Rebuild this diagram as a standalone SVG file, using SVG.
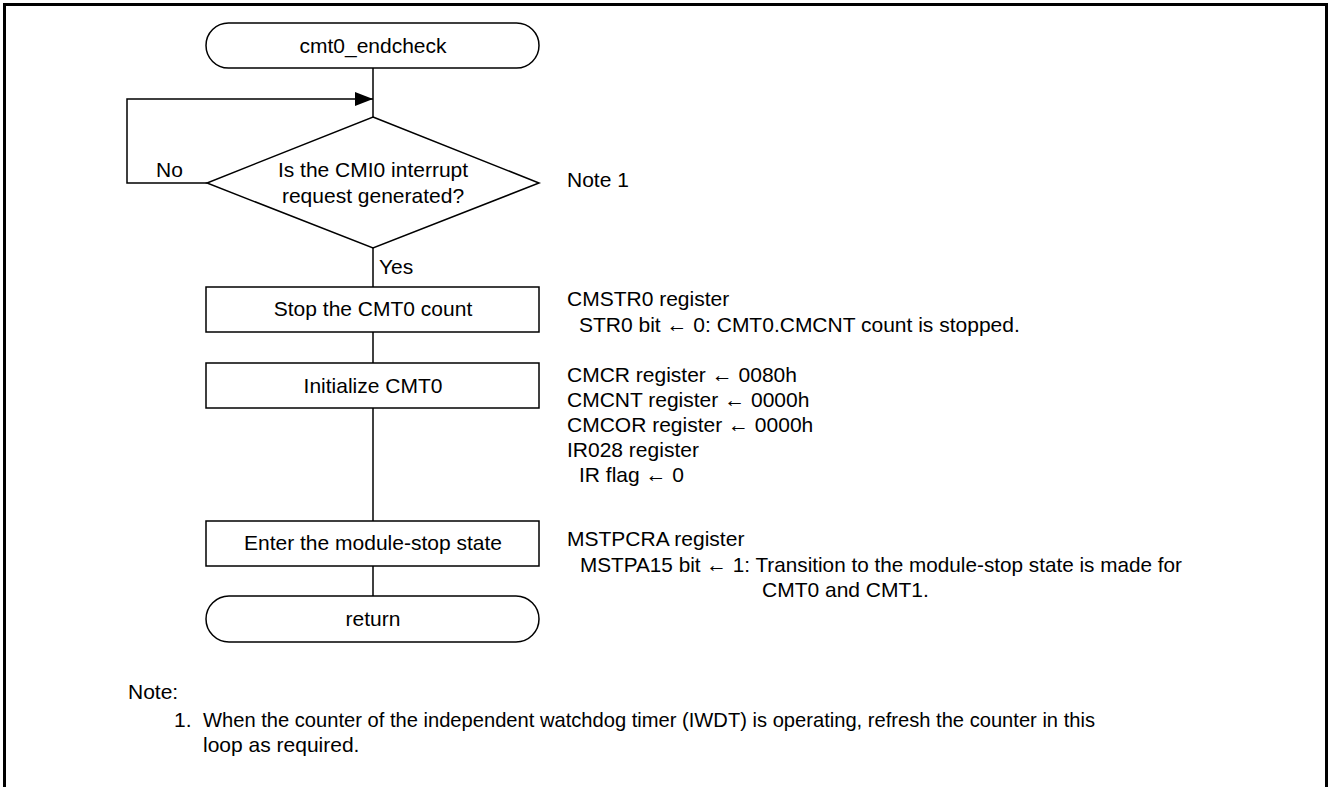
<svg xmlns="http://www.w3.org/2000/svg" width="1328" height="787" viewBox="0 0 1328 787">
<style>
  text { font-family: "Liberation Sans", Arial, sans-serif; font-size: 21px; fill: #000; }
  .c { text-anchor: middle; }
  .shape { fill: #fff; stroke: #000; stroke-width: 1.5; }
  .line { fill: none; stroke: #000; stroke-width: 1.5; }
  .frame { fill: none; stroke: #000; stroke-width: 3; }
</style>
<defs>
  <marker id="arrow" viewBox="0 0 18 14" refX="18" refY="7" markerWidth="18" markerHeight="14" markerUnits="userSpaceOnUse" orient="auto">
    <path d="M0,0 L18,7 L0,14 Z" fill="#000"/>
  </marker>
</defs>
<rect width="1328" height="787" fill="#fff"/>
<path class="frame" d="M4.5,787 V4.5 H1326.5 V787"/>

<g id="connectors">
  <line class="line" x1="373" y1="68" x2="373" y2="117"/>
  <polyline class="line" points="207,183 127,183 127,99 373,99" marker-end="url(#arrow)"/>
  <line class="line" x1="373" y1="248" x2="373" y2="287"/>
  <line class="line" x1="373" y1="332" x2="373" y2="363"/>
  <line class="line" x1="373" y1="408" x2="373" y2="521"/>
  <line class="line" x1="373" y1="566" x2="373" y2="596"/>
  <text x="156" y="177">No</text>
  <text x="379" y="274">Yes</text>
</g>

<g id="start">
  <rect class="shape" x="206" y="23" width="333" height="45" rx="22.5" ry="22.5"/>
  <text class="c" x="373" y="53">cmt0_endcheck</text>
</g>

<g id="decision">
  <polygon class="shape" points="373,117 539,183 373,248 207,183"/>
  <text class="c" x="373" y="177">Is the CMI0 interrupt</text>
  <text class="c" x="373" y="203">request generated?</text>
</g>

<g id="note1-ref">
  <text x="567" y="187">Note 1</text>
</g>

<g id="stop-count">
  <rect class="shape" x="206" y="287" width="333" height="45"/>
  <text class="c" x="373" y="316">Stop the CMT0 count</text>
</g>
<g id="stop-count-note">
  <text x="567" y="306">CMSTR0 register</text>
  <text x="579" y="332">STR0 bit ← 0: CMT0.CMCNT count is stopped.</text>
</g>

<g id="init">
  <rect class="shape" x="206" y="363" width="333" height="45"/>
  <text class="c" x="373" y="393">Initialize CMT0</text>
</g>
<g id="init-note">
  <text x="567" y="382">CMCR register ← 0080h</text>
  <text x="567" y="407">CMCNT register ← 0000h</text>
  <text x="567" y="432">CMCOR register ← 0000h</text>
  <text x="567" y="457">IR028 register</text>
  <text x="579" y="482">IR flag ← 0</text>
</g>

<g id="module-stop">
  <rect class="shape" x="206" y="521" width="333" height="45"/>
  <text class="c" x="373" y="550">Enter the module-stop state</text>
</g>
<g id="module-stop-note">
  <text x="567" y="546">MSTPCRA register</text>
  <text x="580" y="572" textLength="602" lengthAdjust="spacingAndGlyphs">MSTPA15 bit ← 1: Transition to the module-stop state is made for</text>
  <text x="762" y="597">CMT0 and CMT1.</text>
</g>

<g id="return">
  <rect class="shape" x="206" y="596" width="333" height="46" rx="23" ry="23"/>
  <text class="c" x="373" y="626">return</text>
</g>

<g id="notes">
  <text x="128" y="699">Note:</text>
  <text x="174" y="727">1.</text>
  <text x="203" y="727" textLength="892" lengthAdjust="spacingAndGlyphs">When the counter of the independent watchdog timer (IWDT) is operating, refresh the counter in this</text>
  <text x="203" y="752">loop as required.</text>
</g>
</svg>
